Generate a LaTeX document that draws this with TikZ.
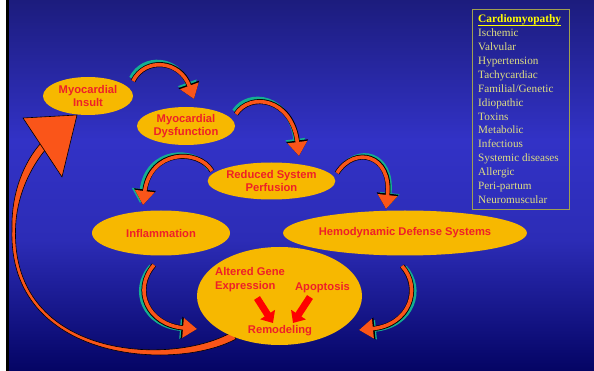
\documentclass[tikz,border=0pt]{standalone}
\usepackage{fontspec}
\setmainfont{Liberation Serif}
\setsansfont{Liberation Sans}
\usetikzlibrary{shapes.geometric,arrows.meta}
\definecolor{ellfill}{RGB}{247,184,0}
\definecolor{txtred}{RGB}{238,32,40}
\definecolor{ribor}{RGB}{250,85,25}
\definecolor{ribteal}{RGB}{20,175,145}
\definecolor{bgtop}{RGB}{28,28,125}
\definecolor{bgmid}{RGB}{50,50,198}
\definecolor{bgmidb}{RGB}{44,44,182}
\definecolor{bgbot}{RGB}{4,4,100}
\definecolor{boxline}{RGB}{160,160,80}
\definecolor{listtxt}{RGB}{222,222,130}
\definecolor{headyel}{RGB}{255,255,0}
\definecolor{blockred}{RGB}{255,0,0}
\newcommand{\ribbon}[2]{%
  \draw[tealrib, shift={#1}] #2;
  \draw[blackrib] #2;
  \draw[orangerib] #2;
}
\begin{document}
\begin{tikzpicture}[x=1pt,y=-1pt,
  ell/.style={ellipse, fill=ellfill, inner sep=0pt, text=txtred, align=center,
    font=\sffamily\bfseries\fontsize{11.2}{13.5}\selectfont},
  redtxt/.style={text=txtred, inner sep=0pt, align=left,
    font=\sffamily\bfseries\fontsize{11.2}{14}\selectfont},
  listitem/.style={anchor=base west, inner sep=0pt, text=listtxt,
    font=\fontsize{11.2}{13}\selectfont},
  tealrib/.style={draw=ribteal, line width=4pt, -{Triangle[length=14pt,width=19pt]}},
  blackrib/.style={draw=black, line width=5pt, -{Triangle[length=15.5pt,width=21pt]}},
  orangerib/.style={draw=ribor, line width=3.6pt, -{Triangle[length=14pt,width=19pt]}},
  blockarrow/.style={draw=blockred, line width=7pt, -{Triangle[length=10pt,width=17pt]}}]
\useasboundingbox (0,0) rectangle (594,371);
% background
\fill[white] (0,0) rectangle (6,371);
\fill[black] (6,0) rectangle (9,371);
\shade[top color=bgtop, bottom color=bgmid] (9,0) rectangle (594,140.5);
\shade[top color=bgmid, bottom color=bgmidb] (9,140) rectangle (594,240.5);
\shade[top color=bgmidb, bottom color=bgbot] (9,240) rectangle (594,371);

% long return arrow (behind the ellipses)
\coordinate (ltail) at (234,335);
\coordinate (ltip) at (77,115);
\filldraw[fill=ribor, draw=black, line width=0.6pt]
  (236,339) .. controls (175,372) and (8,362) .. (12,230)
  .. controls (11,193) and (24,162) .. (41,143)
  -- (46,149) .. controls (30,168) and (16,197) .. (15.5,230)
  .. controls (12,359) and (172,367) .. (232,332) -- cycle;
\filldraw[fill=ribor, draw=black, line width=0.6pt, line join=round]
  (23,118) -- (ltip) -- (62,177) -- cycle;

% ellipses
\node[ell, minimum width=90pt, minimum height=38pt] (insult) at (88,96) {Myocardial\\Insult};
\node[ell, minimum width=98pt, minimum height=38pt] (dysf) at (186,126) {Myocardial\\Dysfunction};
\node[ell, minimum width=123pt, minimum height=37pt] (perf) at (271.5,181) {Reduced System\\Perfusion};
\node[ell, minimum width=138pt, minimum height=45pt] (infl) at (161,233) {Inflammation};
\node[ell, minimum width=212pt, minimum height=45pt] (hemo) at (405,233) {Hemodynamic Defense Systems};
\node[ell, minimum width=165pt, minimum height=98pt] (big) at (279.5,296) {};

% contents of the big ellipse
\node[redtxt, anchor=west] (gene) at (215,280) {Altered Gene\\Expression};
\node[redtxt] (apop) at (322.5,287.5) {Apoptosis};
\node[redtxt] (remod) at (280,331) {Remodeling};
\coordinate (g1) at (257,298);
\coordinate (g2) at (273,323);
\coordinate (p1) at (310,297);
\coordinate (p2) at (293,323);
\draw[blockarrow] (g1) -- (g2);
\draw[blockarrow] (p1) -- (p2);

% curved ribbon arrows
\ribbon{(-2,-3)}{(133,81) .. controls (145,57) and (180,60) .. (194,99)}
\ribbon{(-2,-3)}{(236,114) .. controls (250,92) and (292,98) .. (299,156)}
\ribbon{(-3,-2)}{(212,171) .. controls (198,148) and (150,150) .. (143,205)}
\ribbon{(2,-2)}{(337,173) .. controls (355,145) and (392,155) .. (386,209)}
\ribbon{(-3,1)}{(154,265) .. controls (132,290) and (148,325) .. (197,329)}
\ribbon{(3,1)}{(402,266) .. controls (422,288) and (410,325) .. (359,330)}

% cardiomyopathy box
\draw[boxline, line width=0.8pt] (472,9) rectangle (569,209);
\node[anchor=base west, inner sep=0pt, text=headyel, font=\bfseries\fontsize{11.4}{13}\selectfont] (head) at (478,23) {Cardiomyopathy};
\draw[headyel, line width=1.3pt] ([yshift=-2.4pt]head.base west) -- ([yshift=-2.4pt]head.base east);
\foreach \t [count=\i] in {Ischemic,Valvular,Hypertension,Tachycardiac,Familial/Genetic,Idiopathic,Toxins,Metabolic,Infectious,Systemic diseases,Allergic,Peri-partum,Neuromuscular}
  \node[listitem] (item\i) at (478,{37+(\i-1)*13.85}) {\t};
\end{tikzpicture}
\end{document}
